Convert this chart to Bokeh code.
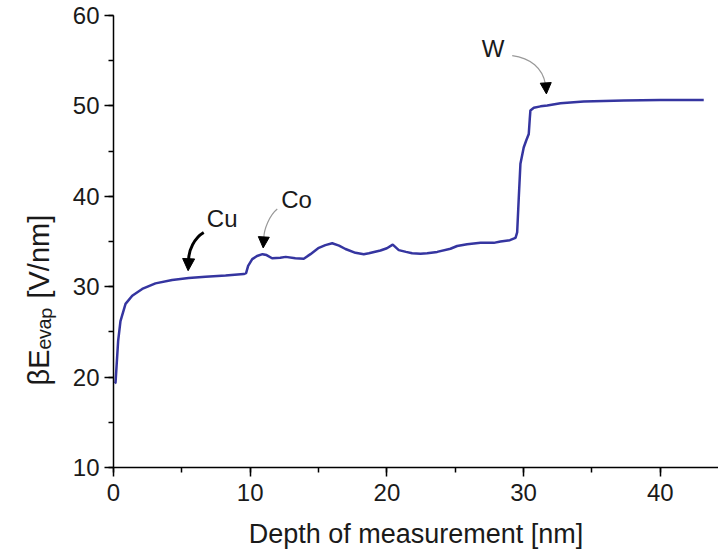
import math
from bokeh.plotting import figure
from bokeh.models import Range1d, SingleIntervalTicker, Label, Arrow, NormalHead, Title
from bokeh.embed import file_html
from bokeh.resources import INLINE

# ---- data ----
depth_nm = [0.1, 0.15, 0.34, 0.51, 0.88, 1.37, 2.1, 3.07, 4.29, 5.5, 6.73, 8.2, 9.53, 9.7,
            9.85, 10.15, 10.5, 10.9, 11.2, 11.6, 12.2, 12.6, 13.3, 13.92, 14.41, 15.02,
            15.5, 16.0, 16.5, 16.97, 17.7, 18.31, 18.68, 19.53, 20.0, 20.43, 20.87, 21.4,
            21.85, 22.46, 22.95, 23.68, 24.65, 25.14, 25.87, 26.85, 27.82, 28.31, 29.0,
            29.41, 29.53, 29.65, 29.77, 30.01, 30.2, 30.38, 30.45, 30.5, 30.75, 31.24,
            31.73, 32.7, 34.4, 37.33, 40.0, 43.18]
beta_E = [19.3, 19.4, 24.0, 26.2, 28.1, 29.0, 29.75, 30.37, 30.74, 30.95, 31.1, 31.25, 31.4, 31.5,
          32.3, 33.05, 33.4, 33.6, 33.5, 33.15, 33.2, 33.3, 33.15, 33.1, 33.6, 34.3,
          34.6, 34.8, 34.55, 34.17, 33.75, 33.6, 33.7, 34.0, 34.25, 34.65, 34.05, 33.85,
          33.7, 33.65, 33.7, 33.85, 34.2, 34.5, 34.7, 34.85, 34.85, 35.0, 35.15,
          35.4, 36.0, 39.9, 43.6, 45.4, 46.2, 46.9, 48.5, 49.5, 49.8, 49.95,
          50.05, 50.3, 50.5, 50.6, 50.65, 50.65]

x_ticks_interval = 10
y_ticks_interval = 10

FONT = "Liberation Sans"
TXT = "#1a1a1a"

p = figure(width=718, height=558, x_range=Range1d(0, 44.26), y_range=Range1d(10, 60),
           output_backend="svg", toolbar_location=None,
           min_border_left=113, min_border_top=15, min_border_right=0, min_border_bottom=91)
p.outline_line_color = None
p.grid.visible = False
p.background_fill_color = "white"

for ax, iv in ((p.xaxis[0], x_ticks_interval), (p.yaxis[0], y_ticks_interval)):
    ax.ticker = SingleIntervalTicker(interval=iv, num_minor_ticks=2)
    ax.axis_line_color = "black"
    ax.axis_line_width = 1.5
    ax.major_tick_line_color = "black"
    ax.minor_tick_line_color = "black"
    ax.major_tick_line_width = 1.5
    ax.minor_tick_line_width = 1.5
    ax.major_tick_in = 0
    ax.major_tick_out = 9
    ax.minor_tick_in = 0
    ax.minor_tick_out = 5
    ax.major_label_text_font = FONT
    ax.major_label_text_font_size = "24px"
    ax.major_label_text_color = TXT

p.xaxis[0].major_label_standoff = 7
p.yaxis[0].major_label_standoff = 5
p.xaxis[0].axis_label = "Depth of measurement [nm]"
p.xaxis[0].axis_label_text_font = FONT
p.xaxis[0].axis_label_text_font_size = "27px"
p.xaxis[0].axis_label_text_font_style = "normal"
p.xaxis[0].axis_label_text_color = TXT
p.xaxis[0].axis_label_standoff = 15

# y axis title (placed as a side title so it can sit lower, like the reference)
p.add_layout(Title(text="βEₑᵥₐₚ [V/nm]", align="left", offset=82, standoff=30,
                   text_font=FONT, text_font_size="29px", text_font_style="normal",
                   text_color=TXT), "left")

# data line
p.line(depth_nm, beta_E, line_color="#3535a0", line_width=2.5)

# annotations
lab = dict(text_font=FONT, text_font_size="24px", text_color=TXT,
           text_align="center", text_baseline="middle")
p.add_layout(Label(x=7.95, y=37.58, text="Cu", **lab))
p.add_layout(Label(x=13.39, y=39.69, text="Co", **lab))
p.add_layout(Label(x=27.76, y=56.4, text="W", **lab))

# Cu arrow (thick, black)
p.bezier(x0=[6.6], y0=[36.0], x1=[5.5], y1=[33.0], cx0=[5.9], cy0=[35.4], cx1=[5.5], cy1=[34.0],
         line_color="black", line_width=3)
p.add_layout(Arrow(end=NormalHead(size=12, fill_color="black", line_color="black"),
                   x_start=5.5, y_start=33.2, x_end=5.46, y_end=31.77, line_color=None))
# Co arrow (thin, grey)
p.bezier(x0=[11.98], y0=[38.6], x1=[11.0], y1=[35.4], cx0=[11.4], cy0=[37.9], cx1=[11.0], cy1=[36.3],
         line_color="#999999", line_width=1.2)
p.add_layout(Arrow(end=NormalHead(size=11, fill_color="black", line_color="black"),
                   x_start=11.0, y_start=35.6, x_end=10.95, y_end=34.29, line_color=None))
# W arrow (thin, grey)
p.bezier(x0=[29.17], y0=[55.57], x1=[31.6], y1=[52.4], cx0=[30.5], cy0=[55.3], cx1=[31.4], cy1=[54.2],
         line_color="#999999", line_width=1.2)
p.add_layout(Arrow(end=NormalHead(size=11, fill_color="black", line_color="black"),
                   x_start=31.62, y_start=52.6, x_end=31.67, y_end=51.33, line_color=None))

open("out.html", "w").write(file_html(p, INLINE))
